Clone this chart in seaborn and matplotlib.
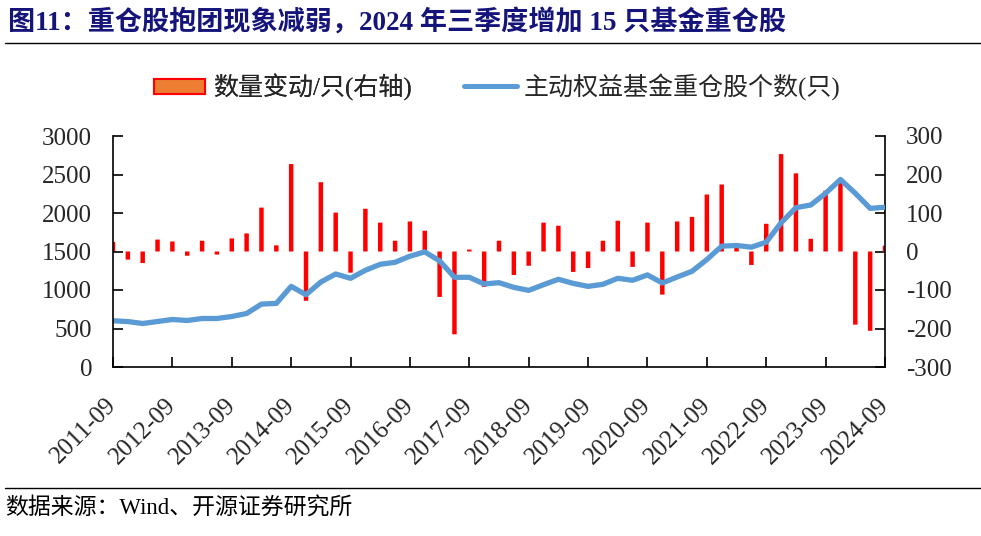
import numpy as np
import pandas as pd
import matplotlib
matplotlib.use("Agg")
import matplotlib.pyplot as plt
import matplotlib.transforms as mtransforms
import seaborn as sns
from matplotlib.patches import Patch
from matplotlib.lines import Line2D

# ---- data ----
quarters = [f"{y}-{m:02d}" for y in range(2011, 2025) for m in (3, 6, 9, 12)]
quarters = quarters[quarters.index("2011-09"):quarters.index("2024-09") + 1]

count = [600, 590, 565, 591, 617, 604, 630, 630, 656, 695,
         817, 826, 1047, 939, 1104, 1208, 1152, 1256, 1334, 1360,
         1439, 1495, 1378, 1165, 1165, 1078, 1095, 1034, 995, 1069,
         1139, 1086, 1047, 1074, 1152, 1126, 1196, 1091, 1169, 1243,
         1395, 1569, 1578, 1556, 1621, 1873, 2069, 2104, 2256, 2435,
         2256, 2060, 2075]
change = [25, -21, -30, 31, 26, -11, 28, -8, 34, 47,
          114, 16, 227, -128, 180, 101, -55, 111, 75, 28,
          78, 54, -118, -215, 5, -92, 28, -61, -37, 75,
          67, -53, -43, 28, 80, -40, 75, -112, 78, 90,
          148, 174, 11, -35, 72, 253, 203, 33, 158, 179,
          -190, -206, 15]
tick_labels = [f"{y}-09" for y in range(2011, 2025)]

bar_label = "数量变动/只(右轴)"
line_label = "主动权益基金重仓股个数(只)"
title = "图11：重仓股抱团现象减弱，2024 年三季度增加 15 只基金重仓股"
source = "数据来源：Wind、开源证券研究所"

df = pd.DataFrame({"quarter": quarters, "pos": np.arange(len(quarters)),
                   "count": count, "change": change})

# ---- style ----
sns.set_theme(style="white")
FAM = ["Liberation Serif", "Noto Sans CJK SC"]
plt.rcParams["font.family"] = FAM
plt.rcParams["axes.unicode_minus"] = False

fig = plt.figure(figsize=(9.81, 5.36), dpi=100)
L, R, B, T = 113 / 981, 885 / 981, 1 - 367 / 536, 1 - 136 / 536
ax1 = fig.add_axes([L, B, R - L, T - B])
ax2 = ax1.twinx()

# bars on right axis
sns.barplot(data=df, x="pos", y="change", native_scale=True, ax=ax2,
            color="#FF0000", saturation=1, width=0.3, errorbar=None)
for p in ax2.patches:
    p.set_snap(False)
    p.set_linewidth(0)
# line on left axis
sns.lineplot(data=df, x="pos", y="count", ax=ax1, color="#5B9BD5",
             lw=3.8, legend=False)

ax1.set_zorder(2)
ax1.patch.set_visible(False)
ax2.set_zorder(1)

ax1.set_ylim(0, 3000)
ax1.set_yticks(np.arange(0, 3001, 500))
ax2.set_ylim(-300, 300)
ax2.set_yticks(np.arange(-300, 301, 100))

for a in (ax1, ax2):
    a.set_xlabel("")
    a.set_ylabel("")
    a.grid(False)
    for s in a.spines.values():
        s.set_visible(False)

xt = np.arange(0, len(quarters), 4)
ax1.set_xlim(0, len(quarters) - 1)
ax1.set_xticks(xt)
ax1.set_xticklabels(tick_labels, rotation=45, ha="right", va="top")
ax2.tick_params(axis="x", bottom=False, top=False, labelbottom=False, labeltop=False)

ax1.spines["left"].set_visible(True)
ax1.spines["bottom"].set_visible(True)
ax2.spines["right"].set_visible(True)
for s in (ax1.spines["left"], ax1.spines["bottom"], ax2.spines["right"]):
    s.set_color("black")
    s.set_linewidth(1.2)

ax1.tick_params(axis="y", direction="in", length=7, width=1.2, color="black",
                labelsize=18, pad=15, left=True)
ax1.tick_params(axis="x", direction="in", length=7, width=1.2, color="black",
                labelsize=18, pad=13, bottom=True, labelbottom=True)
ax2.tick_params(axis="y", direction="in", length=7, width=1.2, color="black",
                labelsize=18, pad=15, right=True)
off = mtransforms.ScaledTranslation(8 / 100, -9 / 100, fig.dpi_scale_trans)
for lab in ax1.get_xticklabels():
    lab.set_transform(lab.get_transform() + off)
for lab in ax1.get_xticklabels() + ax1.get_yticklabels() + ax2.get_yticklabels():
    lab.set_family(FAM)

# ---- legends ----
h_bar = Patch(facecolor="#ED7D31", edgecolor="#FF0000", linewidth=1.5)
h_line = Line2D([0], [0], color="#5B9BD5", lw=3.6)
leg1 = fig.legend([h_bar], [bar_label], loc="center left",
                  bbox_to_anchor=(154 / 981, 1 - 87 / 536), frameon=False,
                  handlelength=2.05, handleheight=0.56, handletextpad=0.3,
                  borderpad=0, borderaxespad=0, prop={"family": FAM, "size": 18})
leg2 = fig.legend([h_line], [line_label], loc="center left",
                  bbox_to_anchor=(464 / 981, 1 - 87 / 536), frameon=False,
                  handlelength=2.1, handletextpad=0.3,
                  borderpad=0, borderaxespad=0, prop={"family": FAM, "size": 18})
fig.add_artist(leg1)

# ---- title, rules, source ----
fig.text(8 / 981, 1 - 22 / 536, title, fontsize=19.5, fontweight="bold",
         color="#14147A", family=FAM, va="center", ha="left")
fig.add_artist(Line2D([5 / 981, 1.0], [1 - 43 / 536, 1 - 43 / 536],
                      color="black", lw=1.0, transform=fig.transFigure))
fig.add_artist(Line2D([5 / 981, 1.0], [1 - 488 / 536, 1 - 488 / 536],
                      color="black", lw=1.0, transform=fig.transFigure))
fig.text(5 / 981, 1 - 509 / 536, source, fontsize=16.5, color="black",
         family=FAM, va="center", ha="left")

fig.savefig("out.png", dpi=100)
